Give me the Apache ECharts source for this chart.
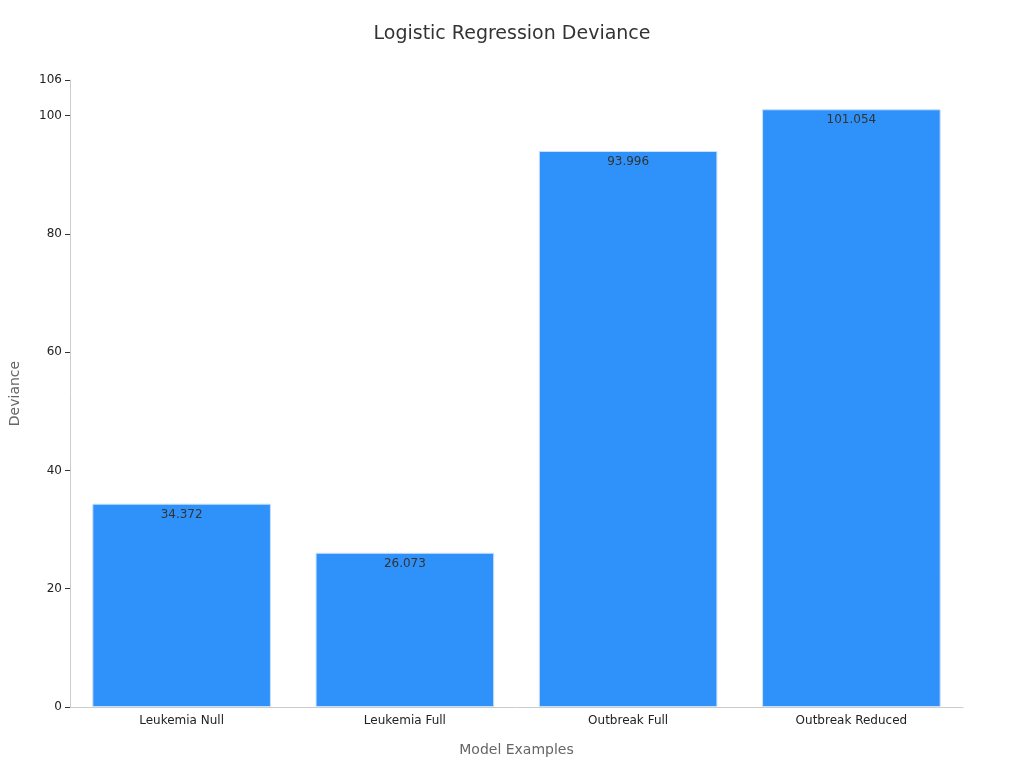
<!DOCTYPE html>
<html>
<head>
<meta charset="utf-8">
<script src="https://cdn.jsdelivr.net/npm/echarts@6/dist/echarts.min.js"></script>
</head>
<body style="margin:0">
<div id="chart" style="width:1024px;height:768px;"></div>
<script>
  var categories = ['Leukemia Null', 'Leukemia Full', 'Outbreak Full', 'Outbreak Reduced'];
  var deviance = [34.372, 26.073, 93.996, 101.054];

  var chart = echarts.init(document.getElementById('chart'));
  chart.setOption({
    textStyle: {fontFamily: 'DejaVu Sans'},
    title: {
      text: 'Logistic Regression Deviance',
      left: 'center', top: 20,
      textStyle: {fontSize: 19, fontWeight: 'normal', color: '#333'}
    },
    grid: {left: 68, right: 61, top: 80, bottom: 61},
    xAxis: {
      type: 'category',
      data: categories,
      name: 'Model Examples',
      nameLocation: 'middle',
      nameGap: 36,
      nameTextStyle: {fontSize: 14, color: '#666'},
      axisLine: {lineStyle: {color: '#ccc'}},
      axisTick: {show: false},
      axisLabel: {color: '#222', fontSize: 12}
    },
    yAxis: {
      type: 'value',
      min: 0, max: 106, interval: 20,
      name: 'Deviance',
      nameLocation: 'middle',
      nameGap: 48,
      nameTextStyle: {fontSize: 14, color: '#666'},
      axisLine: {show: true, lineStyle: {color: '#ccc'}},
      axisTick: {show: true, lineStyle: {color: '#333'}},
      axisLabel: {color: '#222', fontSize: 12},
      splitLine: {show: false}
    },
    series: [{
      type: 'bar',
      data: deviance,
      barWidth: '80%',
      itemStyle: {color: '#2f92fa', borderColor: '#c9e0fb', borderWidth: 1},
      label: {show: true, position: 'insideTop', color: '#333', fontSize: 12}
    }]
  });
</script>
</body>
</html>
